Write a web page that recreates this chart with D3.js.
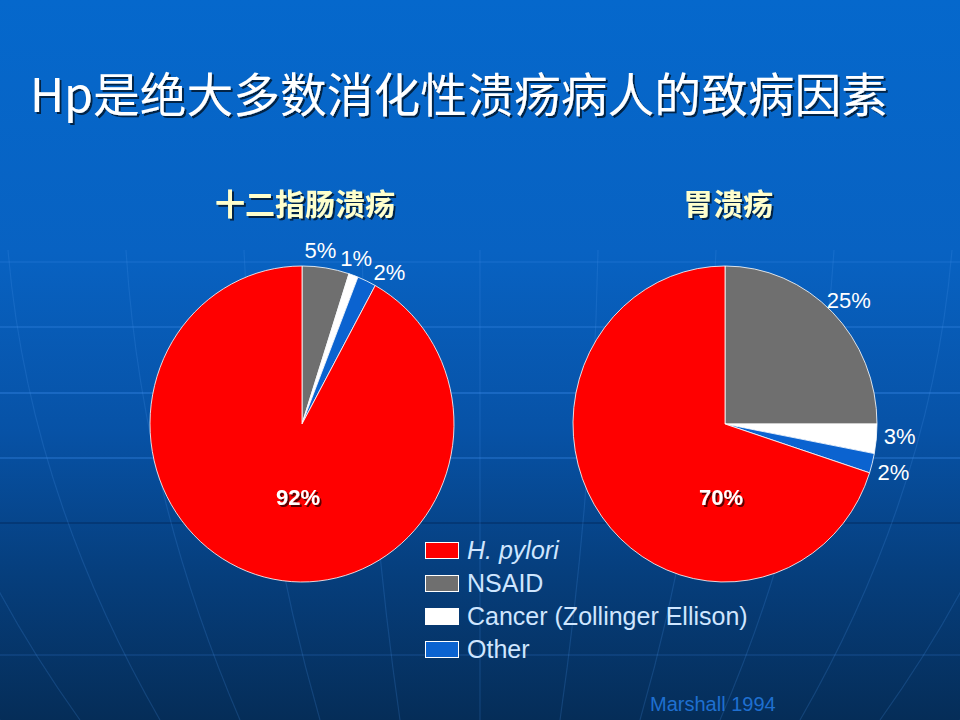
<!DOCTYPE html>
<html>
<head>
<meta charset="utf-8">
<script src="https://cdn.jsdelivr.net/npm/d3@7"></script>
<style>
  html, body { margin: 0; padding: 0; background: #0a4f9e; }
  svg { display: block; }
</style>
</head>
<body>
<svg id="chart" width="960" height="720"></svg>
<script>
// data
const causes     = ["H. pylori", "NSAID", "Cancer (Zollinger Ellison)", "Other"];
const duodenal   = [92, 5, 1, 2];
const gastric    = [70, 25, 3, 2];
const pieTitles  = ["十二指肠溃疡", "胃溃疡"];
const mainTitle  = "Hp是绝大多数消化性溃疡病人的致病因素";
const sourceNote = "Marshall 1994";

const colors = d3.scaleOrdinal()
  .domain(causes)
  .range(["#ff0000", "#6f6f6f", "#ffffff", "#0b63d0"]);

const svg = d3.select("#chart"),
      W   = 960,
      H   = 720;

// ── background: blue gradient + faint globe grid
const defs = svg.append("defs");
const grad = defs.append("linearGradient")
  .attr("id", "bg").attr("x1", 0).attr("y1", 0).attr("x2", 0).attr("y2", 1);
grad.append("stop").attr("offset", "0%").attr("stop-color", "#0568cc");
grad.append("stop").attr("offset", "35%").attr("stop-color", "#0862c2");
grad.append("stop").attr("offset", "60%").attr("stop-color", "#0752a6");
grad.append("stop").attr("offset", "80%").attr("stop-color", "#063e7c");
grad.append("stop").attr("offset", "100%").attr("stop-color", "#052d58");

// drop shadow used by the slide's headline texts
const shadow = defs.append("filter").attr("id", "shadow")
  .attr("x", "-10%").attr("y", "-30%").attr("width", "120%").attr("height", "160%");
shadow.append("feDropShadow")
  .attr("dx", 2).attr("dy", 2).attr("stdDeviation", 0.6)
  .attr("flood-color", "#000").attr("flood-opacity", 0.65);

svg.append("rect").attr("width", W).attr("height", H).attr("fill", "url(#bg)");

const grid = svg.append("g").attr("fill", "none");
[[262, "#3a8ae8", 0.25], [327, "#3a8ae8", 0.4], [393, "#3a8ae8", 0.5],
 [458, "#3a8ae8", 0.45], [523, "#042a5c", 0.6], [655, "#2d6cc0", 0.3]]
  .forEach(([y, c, o]) => {
    grid.append("line")
      .attr("x1", 0).attr("x2", W).attr("y1", y).attr("y2", y)
      .attr("stroke", c).attr("stroke-opacity", o).attr("stroke-width", 1.5);
  });
// meridians converging toward a point below the slide
d3.range(-7, 8).forEach(k => {
  const x0 = 480 + k * 118, x1 = 480 + k * 80;
  grid.append("path")
    .attr("d", `M${x0},250 Q${(x0 + x1) / 2 + k * 14},490 ${x1},${H}`)
    .attr("stroke", "#4a95ea").attr("stroke-opacity", 0.2).attr("stroke-width", 1.2);
});

// ── title
svg.append("text")
  .attr("x", 30).attr("y", 112)
  .attr("font-family", "'Noto Sans CJK SC', sans-serif")
  .attr("font-size", 47)
  .attr("font-weight", 400)
  .attr("textLength", 858)
  .attr("lengthAdjust", "spacingAndGlyphs")
  .attr("fill", "#ffffff")
  .attr("filter", "url(#shadow)")
  .text(mainTitle);

// ── pies
const rx = 152, ry = 158;
const pie = d3.pie().sort(null).value(d => d.value);
const arc = d3.arc().innerRadius(0).outerRadius(rx);
const labelR = 175, minGap = 12 * Math.PI / 180;

const pies = [
  { cx: 302, cy: 424, title: pieTitles[0], values: duodenal },
  { cx: 725, cy: 424, title: pieTitles[1], values: gastric }
];

pies.forEach(p => {
  const rows = causes.map((c, i) => ({ cause: c, value: p.values[i] }));
  // start at 12 o'clock with NSAID, going clockwise, H. pylori last
  const ordered = rows.slice(1).concat(rows.slice(0, 1));
  const slices = pie(ordered);

  svg.append("text")
    .attr("x", p.cx + 3).attr("y", 215)
    .attr("text-anchor", "middle")
    .attr("font-family", "'Noto Sans CJK SC', sans-serif")
    .attr("font-size", 30)
    .attr("font-weight", "bold")
    .attr("fill", "#ffffcc")
    .attr("filter", "url(#shadow)")
    .text(p.title);

  const g = svg.append("g")
    .attr("transform", `translate(${p.cx},${p.cy}) scale(1,${ry / rx})`);
  g.selectAll("path")
    .data(slices)
    .join("path")
      .attr("d", arc)
      .attr("fill", d => colors(d.data.cause))
      .attr("stroke", "#ffffff")
      .attr("stroke-width", 0.8);

  // small slices: labels outside, spread so they don't collide
  const small = slices.filter(d => d.data.cause !== causes[0])
    .map(d => ({ d, a: (d.startAngle + d.endAngle) / 2 }));
  for (let it = 0; it < 30; it++) {
    for (let i = 1; i < small.length; i++) {
      const gap = small[i].a - small[i - 1].a;
      if (gap < minGap) {
        const push = (minGap - gap) / 2;
        small[i - 1].a -= push;
        small[i].a += push;
      }
    }
  }
  svg.selectAll(null)
    .data(small)
    .join("text")
      .attr("x", s => p.cx + labelR * Math.sin(s.a))
      .attr("y", s => p.cy - labelR * Math.cos(s.a) + 8)
      .attr("text-anchor", "middle")
      .attr("font-family", "'Liberation Sans', Arial, sans-serif")
      .attr("font-size", 22)
      .attr("fill", "#ffffff")
      .text(s => s.d.data.value + "%");

  // big slice: label below centre
  const big = slices.find(d => d.data.cause === causes[0]);
  svg.append("text")
    .attr("x", p.cx - 4).attr("y", p.cy + 81)
    .attr("text-anchor", "middle")
    .attr("font-family", "'Liberation Sans', Arial, sans-serif")
    .attr("font-size", 22)
    .attr("font-weight", "bold")
    .attr("fill", "#ffffff")
    .attr("filter", "url(#shadow)")
    .text(big.data.value + "%");
});

// ── legend
const legend = svg.append("g").attr("transform", "translate(425,542)");
const ly = d3.scalePoint().domain(causes).range([0, 99]);
legend.selectAll("rect")
  .data(causes)
  .join("rect")
    .attr("x", 0.5)
    .attr("y", d => ly(d) + 0.5)
    .attr("width", 33)
    .attr("height", 16)
    .attr("fill", d => colors(d))
    .attr("stroke", "#ffffff")
    .attr("stroke-width", 1);
legend.selectAll("text")
  .data(causes)
  .join("text")
    .attr("x", 42)
    .attr("y", d => ly(d) + 17)
    .attr("font-family", "'Liberation Sans', Arial, sans-serif")
    .attr("font-size", 25)
    .attr("font-style", (d, i) => i === 0 ? "italic" : "normal")
    .attr("fill", "#cfe6ff")
    .text(d => d);

// ── source note
svg.append("text")
  .attr("x", 650).attr("y", 711)
  .attr("font-family", "'Liberation Sans', Arial, sans-serif")
  .attr("font-size", 20)
  .attr("fill", "#1f6fd0")
  .text(sourceNote);
</script>
</body>
</html>
